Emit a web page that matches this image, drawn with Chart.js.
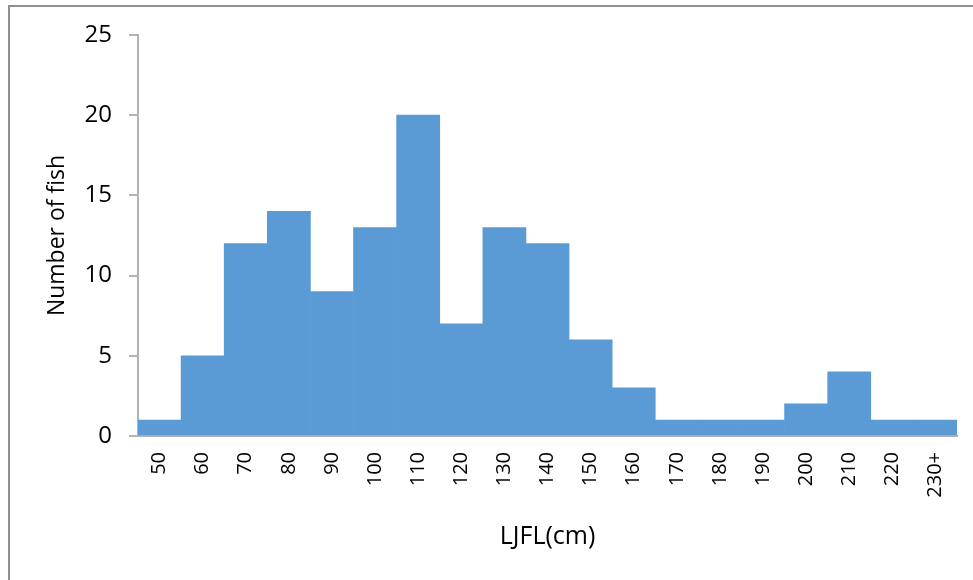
<!DOCTYPE html>
<html>
<head>
<meta charset="utf-8">
<script src="https://cdn.jsdelivr.net/npm/chart.js@4/dist/chart.umd.min.js"></script>
<style>
  body { margin: 0; background: #fff; }
  #wrap { position: relative; width: 973px; height: 580px; overflow: hidden; }
  #frame {
    position: absolute; left: 8px; top: 5px; width: 980px; height: 590px;
    border-left: 2px solid #8f8f8f; border-top: 2px solid #8f8f8f;
    pointer-events: none;
  }
  canvas { position: absolute; left: 0; top: 0; }
</style>
</head>
<body>
<div id="wrap">
  <canvas id="chart" width="973" height="580"></canvas>
  <div id="frame"></div>
</div>
<script>
// Length classes and fish counts
const lengthClasses = ["50", "60", "70", "80", "90", "100", "110", "120", "130", "140",
                       "150", "160", "170", "180", "190", "200", "210", "220", "230+"];
const fishCounts = [1, 5, 12, 14, 9, 13, 20, 7, 13, 12, 6, 3, 1, 1, 1, 2, 4, 1, 1];
const yTicks = [0, 5, 10, 15, 20, 25];

const fontFamily = "'Open Sans', 'Noto Sans', sans-serif";
const axisGray = "#b3b3b3";

const ctx = document.getElementById("chart").getContext("2d");

new Chart(ctx, {
    type: "bar",
    data: {
        labels: lengthClasses,
        datasets: [{
            label: "Number of fish",
            data: fishCounts,
            backgroundColor: "#5b9bd5",
            borderWidth: 0,
            categoryPercentage: 1.0,
            barPercentage: 1.0
        }]
    },
    options: {
        responsive: false,
        animation: false,
        layout: {
            padding: { left: 40, right: 16, top: 35, bottom: 24 }
        },
        plugins: {
            legend: { display: false },
            tooltip: { enabled: false }
        },
        scales: {
            x: {
                grid: { display: false, drawTicks: false },
                border: { display: true, color: axisGray, width: 2 },
                ticks: {
                    color: "#000",
                    font: { family: fontFamily, size: 20 },
                    minRotation: 90,
                    maxRotation: 90,
                    autoSkip: false,
                    padding: 16
                },
                title: {
                    display: true,
                    text: "LJFL(cm)",
                    color: "#000",
                    font: { family: fontFamily, size: 25 },
                    padding: { top: 4, bottom: 4 }
                },
                afterFit: function(scale) {
                    scale.height = 120;
                    scale.paddingLeft = 0;
                    scale.paddingRight = 0;
                }
            },
            y: {
                min: 0,
                max: 25,
                afterBuildTicks: function(scale) {
                    scale.ticks = yTicks.map(v => ({ value: v }));
                },
                grid: {
                    drawOnChartArea: false,
                    drawTicks: true,
                    tickLength: 9,
                    color: axisGray,
                    lineWidth: 2
                },
                border: { display: true, color: axisGray, width: 2 },
                ticks: {
                    color: "#000",
                    font: { family: fontFamily, size: 24 },
                    padding: 17
                },
                title: {
                    display: true,
                    text: "Number of fish",
                    color: "#000",
                    font: { family: fontFamily, size: 23 },
                    padding: { top: 4, bottom: 4 }
                },
                afterFit: function(scale) { scale.width = 138 - 40; }
            }
        }
    }
});
</script>
</body>
</html>
